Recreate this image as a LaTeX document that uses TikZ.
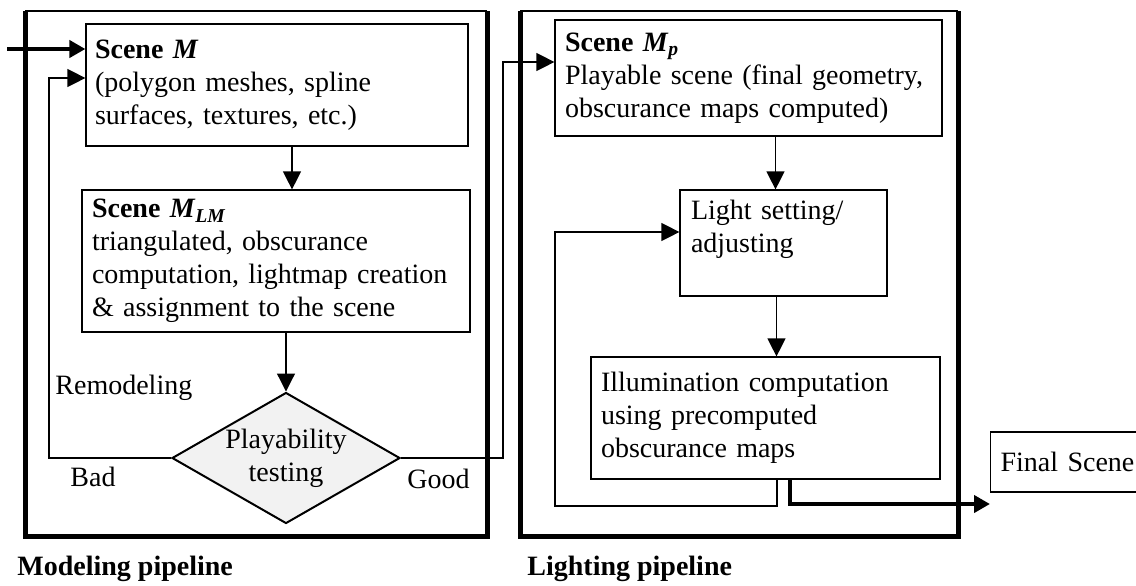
\documentclass[tikz,border=0pt]{standalone}
\usepackage{fontspec}
\setmainfont{Liberation Serif}
\usetikzlibrary{arrows.meta,shapes.geometric}
\tikzset{
  stage/.style={draw, line width=0.6pt, align=left, inner ysep=0pt},
  flow/.style={line width=0.6pt, -{Triangle[length=9pt,width=9pt]}},
  bigflow/.style={line width=2pt, -{Triangle[length=8pt,width=8.5pt]}},
  frame/.style={line width=2.5pt},
  tag/.style={inner sep=0pt, anchor=west},
}
\begin{document}
\begin{tikzpicture}[x=0.5pt, y=-0.5pt, font=\fontsize{14}{16.5}\selectfont]
    \useasboundingbox (0,0) rectangle (1136,585);
    \draw[line width=0.6pt] (25,11)--(487,11);
    \draw[frame] (25,11)--(25,536)--(487,536)--(487,11);
    \draw[line width=0.6pt] (520,11)--(958,11);
    \draw[frame] (520,11)--(520,536)--(958,536)--(958,11);
    \node[stage, text width=182pt, inner xsep=4.5pt, minimum height=61pt] (sceneM) at (277,85)
        {\textbf{Scene \textit{M}}\\(polygon meshes, spline\\surfaces, textures, etc.)};
    \node[stage, text width=184pt, inner xsep=5pt, minimum height=71pt] (sceneLM) at (276,261)
        {\textbf{Scene \textit{M}\textsubscript{\textit{LM}}}\\triangulated, obscurance\\computation, lightmap creation\\\& assignment to the scene};
    \node[diamond, draw, line width=1pt, fill=black!5, inner sep=0pt, aspect=1.74,
        minimum width=114pt, minimum height=65.5pt, align=center] (test) at (286,458)
        {Playability\\testing};
    \node[stage, text width=183.5pt, inner xsep=5pt, minimum height=58pt] (sceneMp) at (748.5,78)
        {\textbf{Scene \textit{M}\textsubscript{\textit{p}}}\\Playable scene (final geometry,\\obscurance maps computed)};
    \node[stage, text width=92.5pt, inner xsep=5.5pt, minimum height=53pt] (light) at (783.5,243)
        {Light setting/\\adjusting\\\mbox{}};
    \node[stage, text width=164.5pt, inner xsep=5pt, minimum height=61pt] (illum) at (765.5,418)
        {Illumination computation\\using precomputed\\obscurance maps};
    \node[stage, anchor=west, text width=80pt, inner xsep=5pt, minimum height=30pt] (final) at (990,462)
        {Final Scene};
    \node[tag] (remodel) at (55,388) {Remodeling};
    \node[tag] (bad) at (70,477) {Bad};
    \node[tag] (good) at (407,479) {Good};
    \node[tag] (modcap) at (17,569) {\textbf{Modeling pipeline}};
    \node[tag] (lightcap) at (527,569) {\textbf{Lighting pipeline}};
    \coordinate (in) at (7,49);
    \draw[bigflow] (in) -- (in -| sceneM.west);
    \coordinate (mA) at ([xshift=7.5pt]sceneM.south);
    \draw[flow] (mA) -- (mA |- sceneLM.north);
    \draw[flow] (test.north |- sceneLM.south) -- (test.north);
    \coordinate (badc) at (49,78);
    \draw[flow] (test.west) -| (badc) -- (badc -| sceneM.west);
    \coordinate (goodc) at (503,62);
    \draw[flow] (test.east) -| (goodc) -- (goodc -| sceneMp.west);
    \coordinate (pA) at ([xshift=-4pt]light.north);
    \draw[flow] (pA |- sceneMp.south) -- (pA);
    \coordinate (pB) at ([xshift=-3.5pt]light.south);
    \draw[flow] (pB) -- (pB |- illum.north);
    \coordinate (loopA) at ([xshift=5.75pt]illum.south);
    \coordinate (loopB) at (555,506);
    \coordinate (loopL) at (555,232);
    \draw[flow] (loopA) |- (loopB) |- (loopL -| light.west);
    \coordinate (outA) at ([xshift=12.25pt]illum.south);
    \coordinate (outEnd) at (990,504);
    \draw[bigflow] (outA) |- (outEnd);
\end{tikzpicture}
\end{document}
